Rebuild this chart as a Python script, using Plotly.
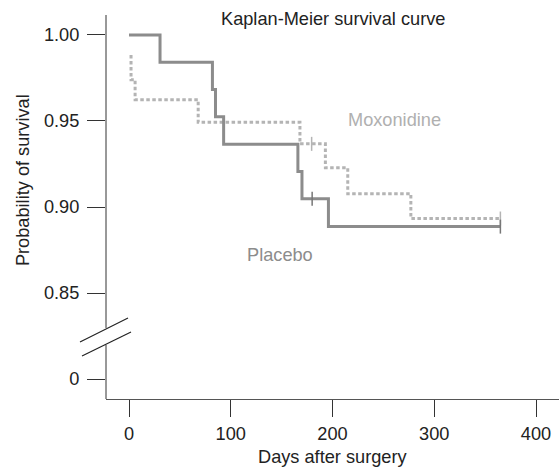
import plotly.graph_objects as go

# Kaplan-Meier estimates (days after surgery, probability of survival)
placebo_days = [0, 30.5, 82, 85, 93, 166, 170, 196, 365]
placebo_surv = [1.0, 0.9841, 0.9683, 0.9524, 0.9365, 0.9206, 0.9048, 0.8886, 0.8886]
placebo_censor_days = [180, 365]
placebo_censor_surv = [0.9048, 0.8886]

moxonidine_days = [2, 2, 6, 68, 168, 193, 215, 277, 365]
moxonidine_surv = [0.9884, 0.974, 0.9624, 0.9492, 0.9367, 0.9228, 0.9077, 0.8933, 0.8933]
moxonidine_censor_days = [179.5, 365]
moxonidine_censor_surv = [0.9367, 0.8933]

# y ticks: the lowest tick stands for 0 below the axis break
y_tickvals = [0.80, 0.85, 0.90, 0.95, 1.00]
y_ticktext = ["0", "0.85", "0.90", "0.95", "1.00"]
x_tickvals = [0, 100, 200, 300, 400]

FONT = "Liberation Sans, Arial, Helvetica, sans-serif"
FS = 18.2
SOLID = "#8c8c8c"
DOTTED = "#b4b4b4"
AXIS = "#333333"

Y0, Y1 = 0.7884, 1.0116
BREAK_LO, BREAK_HI = 0.8198, 0.8297

fig = go.Figure()

fig.add_trace(go.Scatter(
    x=moxonidine_days, y=moxonidine_surv, mode="lines", line_shape="hv",
    line=dict(color=DOTTED, width=3, dash="3.5px,2.5px"), hoverinfo="skip",
))
fig.add_trace(go.Scatter(
    x=moxonidine_censor_days, y=moxonidine_censor_surv, mode="markers",
    marker=dict(symbol="line-ns", size=10, line=dict(color=DOTTED, width=1.5)),
    hoverinfo="skip",
))
fig.add_trace(go.Scatter(
    x=placebo_days, y=placebo_surv, mode="lines", line_shape="hv",
    line=dict(color=SOLID, width=3), hoverinfo="skip",
))
fig.add_trace(go.Scatter(
    x=placebo_censor_days, y=placebo_censor_surv, mode="markers",
    marker=dict(symbol="line-ns", size=10, line=dict(color="#777777", width=1.5)),
    hoverinfo="skip",
))

# y axis line, interrupted at the break
shapes = [
    dict(type="line", xref="paper", yref="y", x0=0, x1=0, y0=Y0, y1=BREAK_LO,
         line=dict(color=AXIS, width=1)),
    dict(type="line", xref="paper", yref="y", x0=0, x1=0, y0=BREAK_HI, y1=Y1,
         line=dict(color=AXIS, width=1)),
    # break marks
    dict(type="line", xref="paper", yref="y", x0=-0.0574, x1=0.0486, y0=0.8215, y1=0.8355,
         line=dict(color="#222222", width=1.2)),
    dict(type="line", xref="paper", yref="y", x0=-0.053, x1=0.0552, y0=0.8134, y1=0.8273,
         line=dict(color="#222222", width=1.2)),
]

annotations = [
    dict(text="Kaplan-Meier survival curve", xref="paper", yref="paper", x=0.5, y=0.9896,
         xanchor="center", yanchor="middle", showarrow=False,
         font=dict(family=FONT, size=FS, color="#222222")),
    dict(text="Moxonidine", xref="x", yref="y", x=261.4, y=0.9506,
         xanchor="center", yanchor="middle", showarrow=False,
         font=dict(family=FONT, size=FS, color="#b0b0b0")),
    dict(text="Placebo", xref="x", yref="y", x=148.4, y=0.872,
         xanchor="center", yanchor="middle", showarrow=False,
         font=dict(family=FONT, size=FS, color="#8c8c8c")),
    dict(text="Probability of survival", xref="paper", yref="y", x=-0.183, y=0.9157,
         xanchor="center", yanchor="middle", textangle=-90, showarrow=False,
         font=dict(family=FONT, size=FS, color="#222222")),
    dict(text="Days after surgery", xref="paper", yref="paper", x=0.5, y=-0.151,
         xanchor="center", yanchor="middle", showarrow=False,
         font=dict(family=FONT, size=FS, color="#222222")),
]

fig.update_layout(
    width=559, height=468,
    margin=dict(l=106, r=0, t=15, b=69),
    paper_bgcolor="white", plot_bgcolor="white",
    showlegend=False,
    shapes=shapes, annotations=annotations,
    font=dict(family=FONT, size=FS, color="#222222"),
    xaxis=dict(
        range=[-22.6, 422.6], tickvals=x_tickvals,
        showline=True, linecolor="#555555", linewidth=1,
        ticks="outside", ticklen=17, tickwidth=1, tickcolor=AXIS,
        showgrid=False, zeroline=False, ticklabelstandoff=1,
    ),
    yaxis=dict(
        range=[Y0, Y1], tickvals=y_tickvals, ticktext=y_ticktext,
        showline=False, ticks="outside", ticklen=18, tickwidth=1, tickcolor=AXIS,
        showgrid=False, zeroline=False, ticklabelstandoff=4,
    ),
)

fig.write_html("out.html")
